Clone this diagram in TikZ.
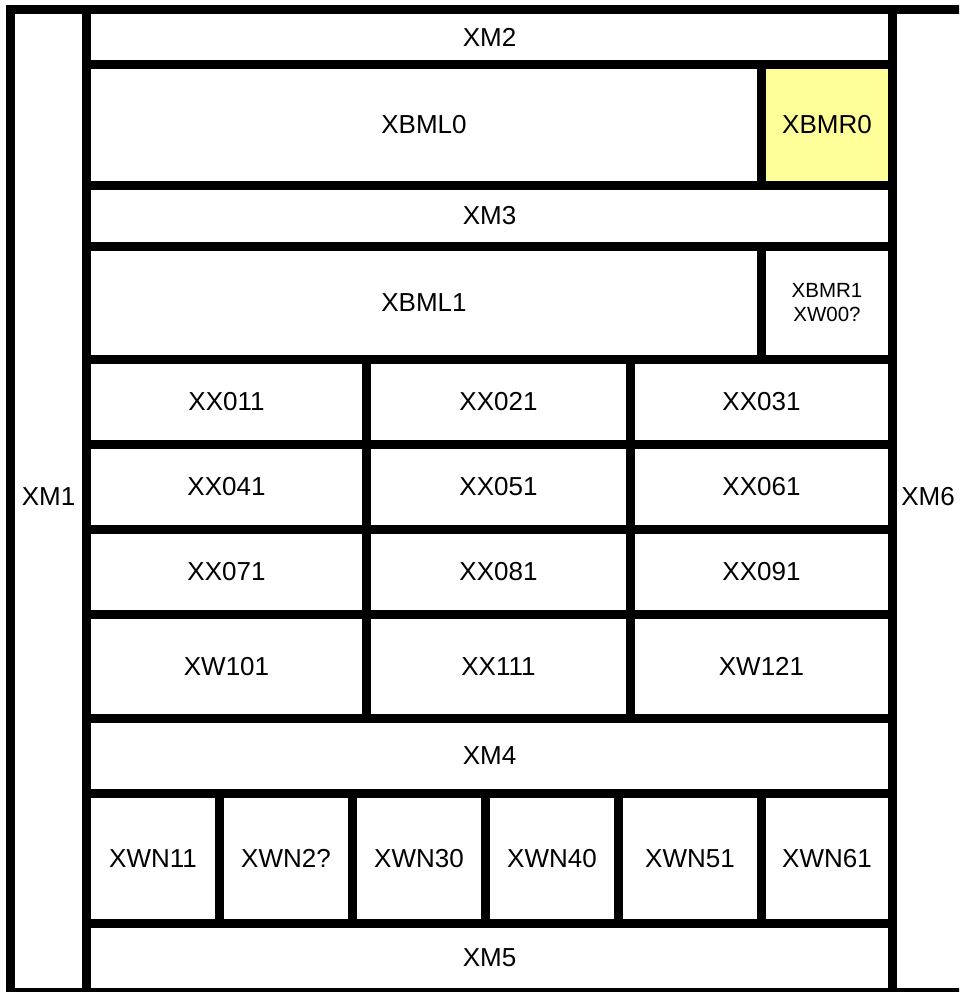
\documentclass[tikz,border=0pt]{standalone}
\usepackage{fontspec}
\setmainfont{Liberation Sans}
\definecolor{cellyellow}{HTML}{FFFF99}
\tikzset{
  wall/.style={line width=9pt, draw=black},
  lbl/.style={font=\fontsize{26}{30}\selectfont, inner sep=0pt},
  smalllbl/.style={font=\fontsize{20.5}{24}\selectfont, inner sep=0pt, align=center}
}
\begin{document}
\begin{tikzpicture}[x=1pt,y=-1pt]
\useasboundingbox (0,0) rectangle (959,992);
\begin{scope}
\clip (0,0) rectangle (959,992);
% yellow cell
\fill[cellyellow] (761.5,64.5) rectangle (892.5,185.5);
% inner columns
\draw[wall] (86.5,9.5) -- (86.5,992.5);
\draw[wall] (892.5,9.5) -- (892.5,992.5);
% horizontal walls
\foreach \y in {64.5,185.5,246.5,359.5,444.5,529.5,614.5,718.5,793.5,923.5}
  \draw[wall] (86.5,\y) -- (892.5,\y);
% right cells
\draw[wall] (761.5,64.5) -- (761.5,185.5);
\draw[wall] (761.5,246.5) -- (761.5,359.5);
% three columns
\draw[wall] (366.5,359.5) -- (366.5,718.5);
\draw[wall] (630.5,359.5) -- (630.5,718.5);
% bottom row
\foreach \x in {219.5,352.5,485.5,618.5,761.5}
  \draw[wall] (\x,793.5) -- (\x,923.5);
% outer frame (open on the right)
\fill[black] (6,5) rectangle (970,14);
\fill[black] (6,988) rectangle (970,997);
\fill[black] (6,5) rectangle (15,997);
\end{scope}
% labels
\node[lbl] (xm1) at (48.5,497) {XM1};
\node[lbl] (xm6) at (928,497) {XM6};
\node[lbl] (xm2) at (489.5,37) {XM2};
\node[lbl] (xbml0) at (424,125) {XBML0};
\node[lbl] (xbmr0) at (827,125) {XBMR0};
\node[lbl] (xm3) at (489.5,216) {XM3};
\node[lbl] (xbml1) at (424,303) {XBML1};
\node[smalllbl] (xbmr1) at (827,303) {XBMR1\\XW00?};
\node[lbl] (xx011) at (226.5,402) {XX011};
\node[lbl] (xx021) at (498.5,402) {XX021};
\node[lbl] (xx031) at (761.5,402) {XX031};
\node[lbl] (xx041) at (226.5,487) {XX041};
\node[lbl] (xx051) at (498.5,487) {XX051};
\node[lbl] (xx061) at (761.5,487) {XX061};
\node[lbl] (xx071) at (226.5,572) {XX071};
\node[lbl] (xx081) at (498.5,572) {XX081};
\node[lbl] (xx091) at (761.5,572) {XX091};
\node[lbl] (xw101) at (226.5,666.5) {XW101};
\node[lbl] (xx111) at (498.5,666.5) {XX111};
\node[lbl] (xw121) at (761.5,666.5) {XW121};
\node[lbl] (xm4) at (489.5,756) {XM4};
\node[lbl] (xwn11) at (153,858.5) {XWN11};
\node[lbl] (xwn2) at (286,858.5) {XWN2?};
\node[lbl] (xwn30) at (419,858.5) {XWN30};
\node[lbl] (xwn40) at (552,858.5) {XWN40};
\node[lbl] (xwn51) at (690,858.5) {XWN51};
\node[lbl] (xwn61) at (827,858.5) {XWN61};
\node[lbl] (xm5) at (489.5,958) {XM5};
\end{tikzpicture}
\end{document}
